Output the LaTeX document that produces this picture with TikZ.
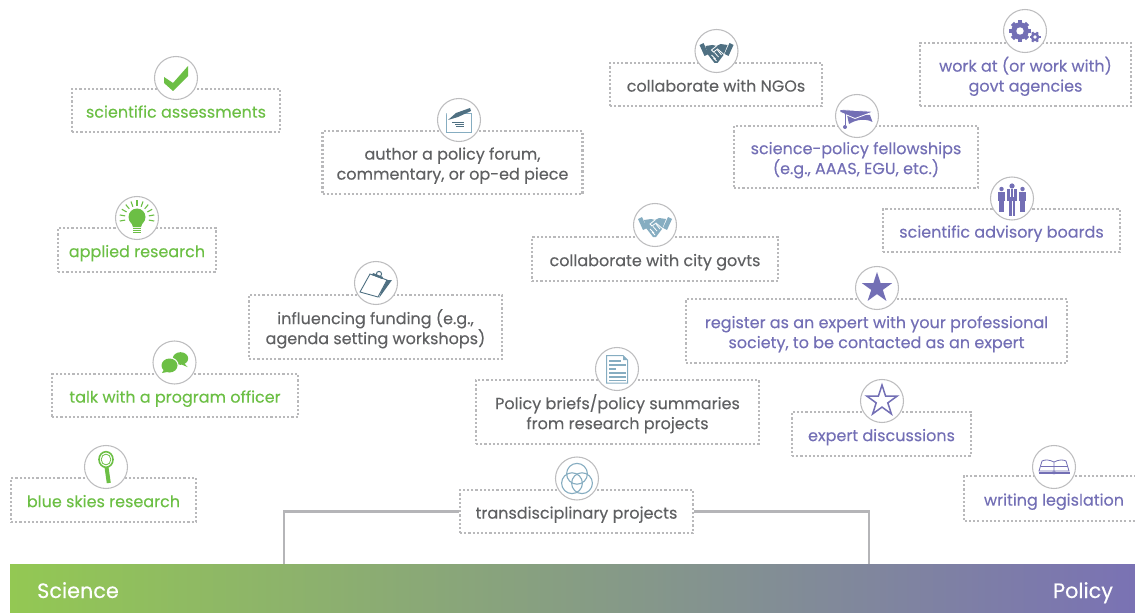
\documentclass[tikz,border=0pt]{standalone}
\usepackage{fontspec}
\setmainfont{Poppins}[FakeBold=0.25]
\usepackage{tikz}
\def\px{0.75pt}
\definecolor{sciencegreen}{HTML}{6CBF45}
\definecolor{policypurple}{HTML}{736FB5}
\definecolor{labelgray}{HTML}{5F6062}
\definecolor{dotgray}{HTML}{B9B9BB}
\definecolor{ringgray}{HTML}{BDBDBF}
\definecolor{linegray}{HTML}{B5B5B8}
\definecolor{darkteal}{HTML}{4F7082}
\definecolor{lightteal}{HTML}{86ADC1}
\definecolor{barleft}{HTML}{93C853}
\definecolor{barright}{HTML}{7A72B4}
\tikzset{
  box/.style 2 args={draw=dotgray,line width=1.7pt,dash pattern=on 1.6pt off 1.55pt,
    minimum width=#1*\px,minimum height=#2*\px,inner sep=0pt,align=center,
    text height=13.7pt,text depth=3pt,
    font=\fontsize{12}{15}\selectfont},
  twolines/.style={text height=28.7pt},
  ring/.style={shape=circle,draw=ringgray,fill=white,line width=0.8pt,
    minimum size=43*\px,inner sep=0pt},
  link/.style={draw=linegray,line width=1.7pt},
  pics/iconcheck/.style={code={
    \fill[sciencegreen] (-12,-1) -- (-3,5) -- (12,-12) -- (12,-2) -- (-3,13) -- (-12,5) -- cycle;
  }},
  pics/iconbulb/.style={code={
    \fill[sciencegreen] (0,-1) circle (8.5);
    \fill[sciencegreen] (-6,4) -- (-4,9) -- (4,9) -- (6,4) -- cycle;
    \foreach \yy in {10.5,12.7,14.9}
      \draw[sciencegreen,line width=1.1*\px] (-4,\yy) -- (4,\yy);
    \foreach \a in {170,190,...,370}
      \draw[sciencegreen,line width=1.1*\px] (\a:12) -- (\a:17.5);
  }},
  pics/iconchat/.style={code={
    \fill[sciencegreen] (6,-4) ellipse (7.7 and 6.3);
    \fill[sciencegreen] (9,0) -- (13,4.5) -- (7,2) -- cycle;
    \fill[white] (-5,3) ellipse (9.2 and 8.2);
    \fill[sciencegreen] (-5,3) ellipse (8 and 7);
    \fill[sciencegreen] (-10,6) -- (-12.5,10.5) -- (-5,9) -- cycle;
  }},
  pics/iconlens/.style={code={
    \draw[sciencegreen,line width=1.6*\px] (0,-7.5) ellipse (7 and 7.8);
    \draw[sciencegreen,line width=0.8*\px] (0,-7.5) ellipse (4.8 and 5.4);
    \draw[sciencegreen,line width=4*\px] (0.5,0) -- (2.8,16);
  }},
  pics/iconpen/.style={code={
    \draw[lightteal,line width=0.9*\px] (-13,-7) rectangle (12,12);
    \fill[white] (-13,-9) -- (-11,-1) -- (14,-13) -- (14,-9) -- cycle;
    \fill[darkteal] (-11,0) -- (-3,-7) -- (11,-12) -- (12,-9) -- (-1,-3) -- cycle;
    \draw[darkteal,line width=1*\px] (-7,2.5) -- (5,2.5);
    \draw[darkteal,line width=1*\px] (-4,4.8) -- (5,4.8);
    \draw[darkteal,line width=1*\px] (-3,7) -- (5,7);
  }},
  pics/iconclip/.style={code={
    \fill[darkteal] (9,-3) -- (16,-3) -- (3,15) -- cycle;
    \draw[darkteal,line width=0.9*\px,fill=white] (-16,9) -- (-6,-9) -- (11,-3) -- (2,14) -- cycle;
    \fill[darkteal] (-3,-10) -- (7,-6) -- (6,-4) -- (-4,-8) -- cycle;
    \draw[darkteal,line width=1*\px] (3,-9) circle (2.6);
  }},
  pics/iconshake/.style={code={
    \fill[#1] (-17,-6) -- (-13,-8) -- (-8,3) -- (-12,5) -- cycle;
    \fill[#1] (17,-6) -- (13,-8) -- (8,3) -- (12,5) -- cycle;
    \fill[#1] (-11,-5) -- (-4,-6) -- (0,-5) -- (4,-7) -- (11,-6) -- (7,4) -- (1,12) -- (-2,12) -- (-9,3) -- cycle;
    \draw[white,line width=0.8*\px] (0,-5) -- (-5,-1) -- (-3,1) -- (1,-2) -- (8,4);
    \draw[white,line width=0.8*\px] (-5,4) -- (-1,8) (-2,1.5) -- (2,6) (1,-1) -- (5,4) (-3,7) -- (0,10);
  }},
  pics/iconcap/.style={code={
    \fill[policypurple] (-10,-1) -- (13,-1) -- (15.5,6) .. controls (9,2.5) and (0,3) .. (-8,8) -- cycle;
    \draw[white,line width=0.8*\px,fill=policypurple] (-17,-6.5) -- (17,-4.5) -- (-2,2.5) -- (-17,-3.8) -- cycle;
    \draw[policypurple,line width=0.8*\px] (-12,-3) -- (-12,9);
    \fill[policypurple] (-12,11) circle (2);
  }},
  pics/icongears/.style={code={
    \foreach \a in {0,45,...,315}
      \draw[policypurple,line width=4.4*\px] (-5,0) ++(\a:7) -- ++(\a:3.7);
    \foreach \a in {0,60,...,300}
      \draw[policypurple,line width=2.2*\px] (10,6) ++(\a:3.5) -- ++(\a:2);
    \fill[policypurple] (-5,0) circle (8.7);
    \fill[white] (-5,0) circle (3.7);
    \fill[policypurple] (10,6) circle (4.3);
    \fill[white] (10,6) circle (1.9);
  }},
  pics/iconpeople/.style={code={
    \foreach \xx in {-10.5,10.5}{
      \fill[policypurple] (\xx,-9.5) circle (2.2);
      \fill[policypurple] (\xx-3.7,-6.5) rectangle (\xx+3.7,3);
      \fill[policypurple] (\xx-2.5,3) rectangle (\xx+2.5,14);
    }
    \fill[white] (-6.3,-8.5) rectangle (6.3,17);
    \fill[policypurple] (0,-12.5) circle (2.6);
    \fill[policypurple] (-5.3,-9) rectangle (5.3,3);
    \fill[policypurple] (-3.3,3) rectangle (3.3,17);
    \draw[white,line width=0.7*\px] (0,3) -- (0,17);
    \draw[white,line width=0.8*\px] (-1.3,-9) -- (-1.3,-1) (1.3,-9) -- (1.3,-1);
  }},
  pics/iconstar/.style={code={
    \path[#1] (-90:16) -- (-54:6.1) -- (-18:16) -- (18:6.1) -- (54:16) -- (90:6.1) -- (126:16)
      -- (162:6.1) -- (198:16) -- (234:6.1) -- cycle;
  }},
  pics/icondoc/.style={code={
    \draw[lightteal,line width=1*\px] (-10.5,-13.5) -- (6,-13.5) -- (10.5,-9) -- (10.5,14) -- (-10.5,14) -- cycle;
    \fill[lightteal] (6,-13.5) -- (10.5,-9) -- (6,-9) -- cycle;
    \foreach \yy/\xe in {-8/4,-4/8.5,0/-1.5,4/8.5,8/8.5,11.5/8.5}
      \draw[lightteal,line width=1.3*\px] (-8,\yy) -- (\xe,\yy);
  }},
  pics/iconvenn/.style={code={
    \draw[lightteal,line width=1.1*\px] (0,-4.7) circle (10.4);
    \draw[lightteal,line width=1.1*\px] (-5,4.7) circle (10.4);
    \draw[lightteal,line width=1.1*\px] (5,4.7) circle (10.4);
  }},
  pics/iconbook/.style={code={
    \draw[policypurple,line width=0.8*\px] (0,-5) .. controls (-5,-7.5) and (-9,-7.5) .. (-12,-6) -- (-15,4) -- (15,4) -- (12,-6) .. controls (9,-7.5) and (5,-7.5) .. (0,-5) -- (0,4);
    \draw[policypurple,line width=0.7*\px] (-13.5,-1) -- (13.5,-1);
    \draw[policypurple,line width=1.6*\px] (-15.5,5.8) -- (15.5,5.8);
    \fill[policypurple] (0,5.8) ellipse (2.4 and 1.5);
  }}
}
\begin{document}
\begin{tikzpicture}[x=0.75pt,y=-0.75pt]
\useasboundingbox (0,0) rectangle (1135,613);
% gradient bar
\node[left color=barleft,right color=barright,minimum width=1125*\px,minimum height=49*\px,inner sep=0pt] (bar) at (572.5,588.5) {};
\node[text=white,anchor=base,font=\fontsize{15.6}{18}\selectfont] (science) at (78,598) {Science};
\node[text=white,anchor=base,font=\fontsize{15.6}{18}\selectfont] (policy) at (1083,598) {Policy};
% boxes
\node[box={208}{43},text=sciencegreen] (assess) at (176,110.5) {scientific assessments};
\node[box={158}{44},text=sciencegreen] (applied) at (137,250) {applied research};
\node[box={246}{43},text=sciencegreen] (talk) at (175,395.5) {talk with a program officer};
\node[box={185}{44},text=sciencegreen] (skies) at (103.5,500) {blue skies research};
\node[box={260}{63},twolines,text=labelgray] (forum) at (452.5,162.5) {author a policy forum,\\commentary, or op-ed piece};
\node[box={253}{64},twolines,text=labelgray] (funding) at (375.5,327) {influencing funding (e.g.,\\agenda setting workshops)};
\node[box={212}{43},text=labelgray] (ngos) at (716,84.5) {collaborate with NGOs};
\node[box={246}{44},text=labelgray] (city) at (655,259) {collaborate with city govts};
\node[box={283}{64},twolines,text=labelgray] (briefs) at (617.5,412) {Policy briefs/policy summaries\\from research projects};
\node[box={233}{43},text=labelgray] (trans) at (576.5,511.5) {transdisciplinary projects};
\node[box={211}{63},twolines,text=policypurple] (agencies) at (1025.5,74.5) {work at (or work with)\\govt agencies};
\node[box={244}{62},twolines,text=policypurple] (fellows) at (856,157) {science-policy fellowships\\(e.g., AAAS, EGU, etc.)};
\node[box={237}{43},text=policypurple] (boards) at (1001.5,230.5) {scientific advisory boards};
\node[box={381}{64},twolines,text=policypurple] (register) at (876.5,331) {register as an expert with your professional\\society, to be contacted as an expert};
\node[box={179}{44},text=policypurple] (discuss) at (881.5,434) {expert discussions};
% open on the right
\node[box={170}{43},draw=none,text=policypurple] (legis) at (1050,498.5) {\hspace*{6pt}writing legislation};
\draw[draw=dotgray,line width=1.7pt,dash pattern=on 1.6pt off 1.55pt] (legis.north east) -- (legis.north west) -- (legis.south west) -- (legis.south east);
% connectors
\coordinate (footl) at (284,564);
\coordinate (footr) at (869,564);
\draw[link] (trans.west) -| (footl);
\draw[link] (trans.east) -| (footr);
% rings
\node[ring] (rassess) at (176,78) {};
\node[ring] (rapplied) at (137,218) {};
\node[ring] (rtalk) at (174.5,362.5) {};
\node[ring] (rskies) at (106,467) {};
\node[ring] (rforum) at (459,120) {};
\node[ring] (rfunding) at (376,283) {};
\node[ring] (rngos) at (716.5,51) {};
\node[ring] (rcity) at (655,225) {};
\node[ring] (rbriefs) at (617,369) {};
\node[ring] (rtrans) at (577,478.5) {};
\node[ring] (ragencies) at (1025,31) {};
\node[ring] (rfellows) at (857,116) {};
\node[ring] (rboards) at (1012,198.5) {};
\node[ring] (rregister) at (877,288) {};
\node[ring] (rdiscuss) at (882,401) {};
\node[ring] (rlegis) at (1054,467) {};
% icons
\pic at (rassess.center) {iconcheck};
\pic at (rapplied.center) {iconbulb};
\pic at (rtalk.center) {iconchat};
\pic at (rskies.center) {iconlens};
\pic at (rforum.center) {iconpen};
\pic at (rfunding.center) {iconclip};
\pic at (rngos.center) {iconshake=darkteal};
\pic at (rcity.center) {iconshake=lightteal};
\pic at (rbriefs.center) {icondoc};
\pic at (rtrans.center) {iconvenn};
\pic at (ragencies.center) {icongears};
\pic at (rfellows.center) {iconcap};
\pic at (rboards.center) {iconpeople};
\pic at (rregister.center) {iconstar={fill=policypurple}};
\pic at (rdiscuss.center) {iconstar={draw=policypurple,line width=1.5*\px}};
\pic at (rlegis.center) {iconbook};
\end{tikzpicture}
\end{document}
